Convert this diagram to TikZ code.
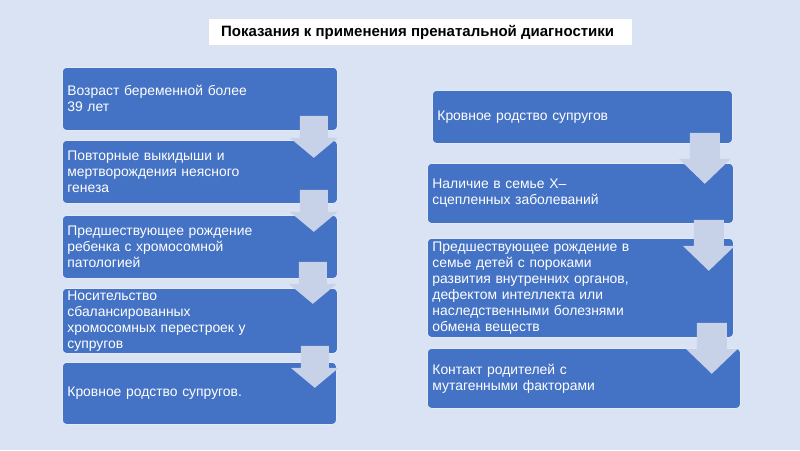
\documentclass[tikz,border=0pt]{standalone}
\usepackage{fontspec}
\setmainfont{Liberation Sans}
\usetikzlibrary{positioning, calc}

\definecolor{slidebg}{HTML}{DAE3F3}
\definecolor{boxblue}{HTML}{4472C4}
\definecolor{chevfill}{HTML}{C7D1E8}

\begin{document}
\begin{tikzpicture}[x=1pt, y=-1pt,
    sign/.style={draw=white!85!boxblue, line width=0.8pt, fill=boxblue, rounded corners=4pt, anchor=north west,
        text=white, align=left, inner xsep=5pt, inner ysep=1pt, font=\fontsize{13.9}{16}\selectfont},
    chevl/.pic={\fill[chevfill] (-14,-22) -- (14,-22) -- (14,0) -- (24,0) -- (0,20) -- (-24,0) -- (-14,0) -- cycle;},
    chevr/.pic={\fill[chevfill] (-15,-26) -- (15,-26) -- (15,0) -- (26,0) -- (0,25) -- (-26,0) -- (-15,0) -- cycle;}]
    \useasboundingbox[fill=slidebg] (0,0) rectangle (800,450);
    % title
    \fill[white] (209,19) rectangle (632,45);
    \node[anchor=west, inner sep=0pt, font=\bfseries\fontsize{15}{17}\selectfont] (title) at (221,32) {Показания к применения пренатальной диагностики};
    % left column
    \node[sign, minimum width=275pt, minimum height=63pt, text width=265pt] (l1) at (62,67) {Возраст беременной более\\39 лет};
    \node[sign, minimum width=275pt, minimum height=63pt, text width=265pt] (l2) at (62,140) {Повторные выкидыши и\\мертворождения неясного\\генеза};
    \node[sign, minimum width=275pt, minimum height=63pt, text width=265pt] (l3) at (62,215) {Предшествующее рождение\\ребенка с хромосомной\\патологией};
    \node[sign, minimum width=275pt, minimum height=65pt, text width=265pt] (l4) at (62,288) {Носительство\\сбалансированных\\хромосомных перестроек у\\супругов};
    \node[sign, minimum width=274pt, minimum height=62pt, text width=264pt] (l5) at (62,362) {Кровное родство супругов.};
    % right column
    \node[sign, minimum width=300pt, minimum height=53pt, text width=290pt] (r1) at (432,90) {Кровное родство супругов};
    \node[sign, minimum width=306pt, minimum height=60pt, text width=296pt] (r2) at (427,163) {Наличие в семье Х–\\сцепленных заболеваний};
    \node[sign, minimum width=306pt, minimum height=99pt, text width=296pt] (r3) at (427,238) {Предшествующее рождение в\\семье детей с пороками\\развития внутренних органов,\\дефектом интеллекта или\\наследственными болезнями\\обмена веществ};
    \node[sign, minimum width=313pt, minimum height=60pt, text width=303pt] (r4) at (427,348) {Контакт родителей с\\мутагенными факторами};
    % chevrons
    \pic at ($(l1.south east)+(-24,7)$) {chevl};
    \pic at ($(l2.south east)+(-24,8)$) {chevl};
    \pic at ($(l3.south east)+(-25,5)$) {chevl};
    \pic at ($(l4.south east)+(-23,14)$) {chevl};
    \pic at ($(r1.south east)+(-28,15)$) {chevr};
    \pic at ($(r2.south east)+(-25,22)$) {chevr};
    \pic at ($(r3.south east)+(-22,11)$) {chevr};
\end{tikzpicture}
\end{document}
